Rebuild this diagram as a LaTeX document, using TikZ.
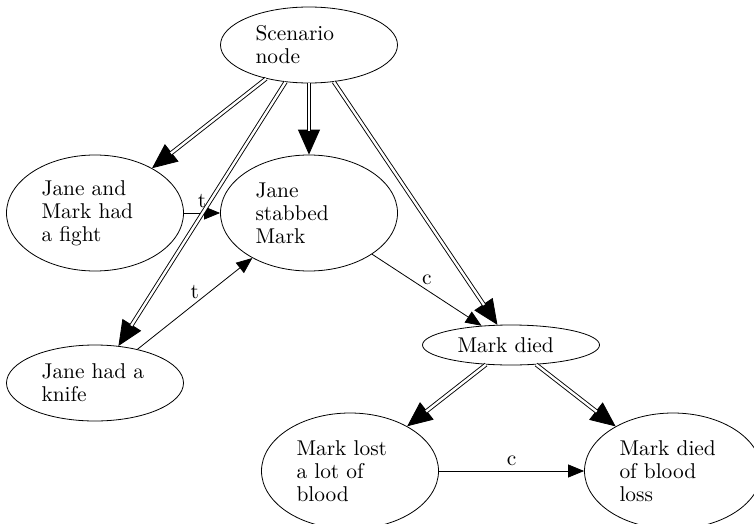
\documentclass[tikz,border=0pt]{standalone}
\usetikzlibrary{shapes.geometric,arrows.meta}
\newcommand\dedge[2]{%
  \draw[dblhead] (#1) -- (#2);
  \draw[dblline] (#1) -- (#2);}
\begin{document}
\begin{tikzpicture}[x=0.5pt,y=-0.5pt,
  every node/.style={font=\fontsize{10.7}{11.5}\selectfont},
  ev/.style={ellipse, draw, line width=0.4pt, inner sep=0pt, text width=53.5pt, align=left, minimum width=88.5pt},
  tall/.style={ev, minimum height=58pt},
  mid/.style={ev, minimum height=38pt},
  flat/.style={ev, minimum height=20pt},
  dblhead/.style={-{Triangle[length=12.5pt,width=11pt]}, line width=0.4pt},
  dblline/.style={double, double distance=1.2pt, line width=0.45pt, shorten >=12pt},
  sgl/.style={-{Triangle[length=8pt,width=6.5pt]}, line width=0.4pt},
  lbl/.style={above, inner sep=2.5pt}
]
\useasboundingbox (0,0) rectangle (754,524);
\clip (0,0) rectangle (754,524);
\node[mid]  (scen)  at (309,45)  {Scenario\\node};
\node[tall] (fight) at (95,213)  {Jane and\\Mark had\\a fight};
\node[tall] (stab)  at (309,213) {Jane\\stabbed\\Mark};
\node[mid]  (knife) at (95,383)  {Jane had a\\knife};
\node[flat] (died)  at (511,345) {Mark died};
\node[tall] (lost)  at (350,471) {Mark lost\\a lot of\\blood};
\node[tall] (loss)  at (673,471) {Mark died\\of blood\\loss};

\draw[sgl] (fight) -- node[lbl]{t} (stab);
\draw[sgl] (knife) -- node[lbl]{t} (stab);
\draw[sgl] (stab) -- node[lbl]{c} (died);
\draw[sgl] (lost) -- node[lbl]{c} (loss);

\dedge{scen}{fight}
\dedge{scen}{knife}
\dedge{scen}{stab}
\dedge{scen}{died}
\dedge{died}{lost}
\dedge{died}{loss}
\end{tikzpicture}
\end{document}
